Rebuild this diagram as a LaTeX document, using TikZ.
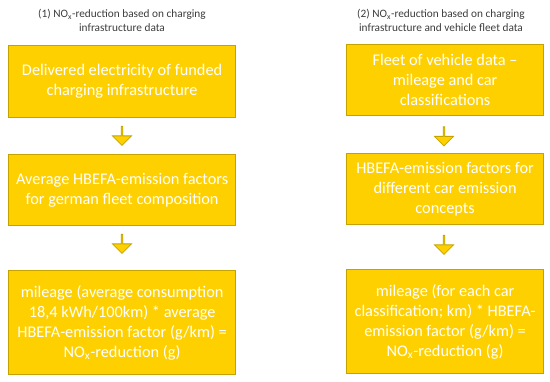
\documentclass[tikz,border=0pt]{standalone}
\usepackage{fontspec}
\setmainfont{Carlito}
\usetikzlibrary{shapes.arrows}
\definecolor{gold}{RGB}{254,208,0}
\definecolor{golddark}{RGB}{196,163,0}
\definecolor{titlegray}{RGB}{60,60,60}
\tikzset{
  box/.style={draw=golddark, line width=1.2pt, fill=gold, text=white, align=center,
    inner sep=0pt, font=\fontsize{16.3}{20}\selectfont, anchor=north west},
  ttl/.style={text=titlegray, align=center, font=\fontsize{11.3}{13.5}\selectfont},
  barrow/.style={shape=single arrow, shape border rotate=270, draw=golddark, line width=0.8pt,
    fill=gold, minimum height=19pt, minimum width=19pt, single arrow head extend=4.5pt,
    inner sep=0pt, inner ysep=5pt, inner xsep=0pt}
}
\begin{document}
\begin{tikzpicture}[x=1pt,y=-1pt]
\useasboundingbox (0,0) rectangle (550,382);
\node[ttl] (t1) at (122,20.5) {(1) NO\textsubscript{x}-reduction based on charging\\infrastructure data};
\node[ttl] (t2) at (441,20.5) {(2) NO\textsubscript{x}-reduction based on charging\\infrastructure and vehicle fleet data};

\node[box, minimum width=227pt, minimum height=72pt] (a1) at (8,45) {Delivered electricity of funded\\charging infrastructure};
\node[box, minimum width=227pt, minimum height=71pt] (a2) at (8,154) {Average HBEFA-emission factors\\for german fleet composition};
\node[box, minimum width=227pt, minimum height=104pt] (a3) at (8,270) {mileage (average consumption\\18,4 kWh/100km) * average\\HBEFA-emission factor (g/km) =\\NO\textsubscript{x}-reduction (g)};

\node[box, minimum width=197pt, minimum height=71pt] (b1) at (346,44) {Fleet of vehicle data --\\mileage and car\\classifications};
\node[box, minimum width=197pt, minimum height=71pt] (b2) at (346,153) {HBEFA-emission factors for\\different car emission\\concepts};
\node[box, minimum width=197pt, minimum height=104pt] (b3) at (346,269) {mileage (for each car\\classification; km) * HBEFA-\\emission factor (g/km) =\\NO\textsubscript{x}-reduction (g)};

\node[barrow] (ar1) at (122,135.5) {};
\node[barrow] (ar2) at (122,243.5) {};
\node[barrow] (ar3) at (444,136) {};
\node[barrow] (ar4) at (444,244.5) {};
\end{tikzpicture}
\end{document}
